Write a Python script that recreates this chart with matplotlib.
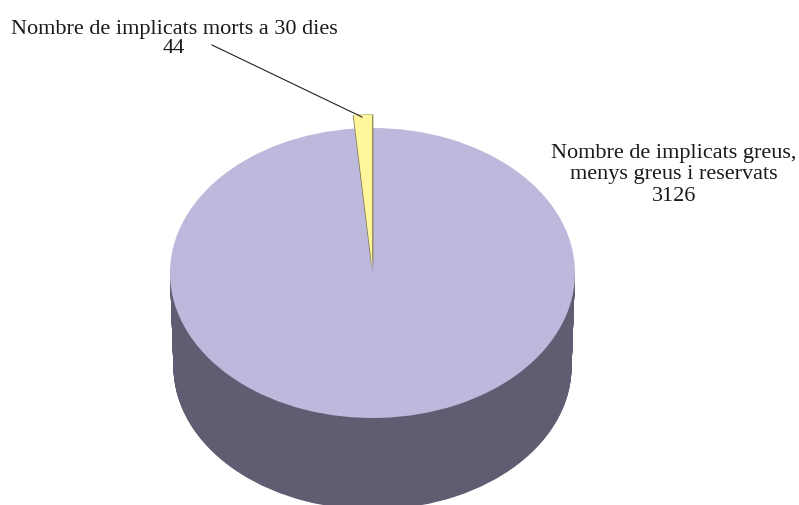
import matplotlib
matplotlib.use("Agg")
import matplotlib.pyplot as plt
import numpy as np

labels = ["Nombre de implicats morts a 30 dies", "Nombre de implicats greus,\nmenys greus i reservats"]
values = [44, 3126]

W, H = 799, 506
CX, CY, RX, RY = 372.5, 274.0, 202.5, 145.0
TOP = "#BDB9DC"
SIDE = "#605D73"
YELLOW = "#FFF59A"
OLIVE = "#857F52"

plt.rcParams["font.family"] = ["Liberation Serif", "DejaVu Serif"]
fig = plt.figure(figsize=(W / 100, H / 100), dpi=100, facecolor="white")
ax = fig.add_axes([0, 0, 1, 1])

def fx(px):
    return px / W

def fy(py):
    return 1 - py / H

# extruded body: stacked pies shrinking slightly towards the base
depth = 94 / RY
for t in np.linspace(1, 0.08, 110):
    ax.pie(values, colors=[SIDE, SIDE], startangle=90, radius=1 - 0.017 * t,
           center=(0, -depth * t), wedgeprops={"linewidth": 0})
# top face
ax.pie(values, colors=[TOP, TOP], startangle=90, radius=1, center=(0, 0),
       wedgeprops={"linewidth": 0})
# exploded small slice with dark edges
lift = [0.038, 0]
for dx, col in [(-0.8, OLIVE), (1.2, OLIVE), (0, YELLOW)]:
    ax.pie(values, colors=[col, "none"], startangle=90, radius=1.055,
           explode=lift, center=(dx / RX, 0), wedgeprops={"linewidth": 0})

ax.set_aspect("auto")
ax.set_xlim(-CX / RX, (W - CX) / RX)
ax.set_ylim(-(H - CY) / RY, CY / RY)
ax.axis("off")

fig.add_artist(plt.Line2D([fx(212), fx(362)], [fy(46), fy(118)], color="#222222", lw=0.8))

fig.text(fx(174), fy(39), f"{labels[0]}\n{values[0]}", ha="center", va="center",
         fontsize=16, color="#1a1a1a", linespacing=0.95, multialignment="center")
fig.text(fx(674), fy(175), f"{labels[1]}\n{values[1]}", ha="center", va="center",
         fontsize=16, color="#1a1a1a", linespacing=1.16, multialignment="center")

fig.savefig("out.png", dpi=100, facecolor="white")
